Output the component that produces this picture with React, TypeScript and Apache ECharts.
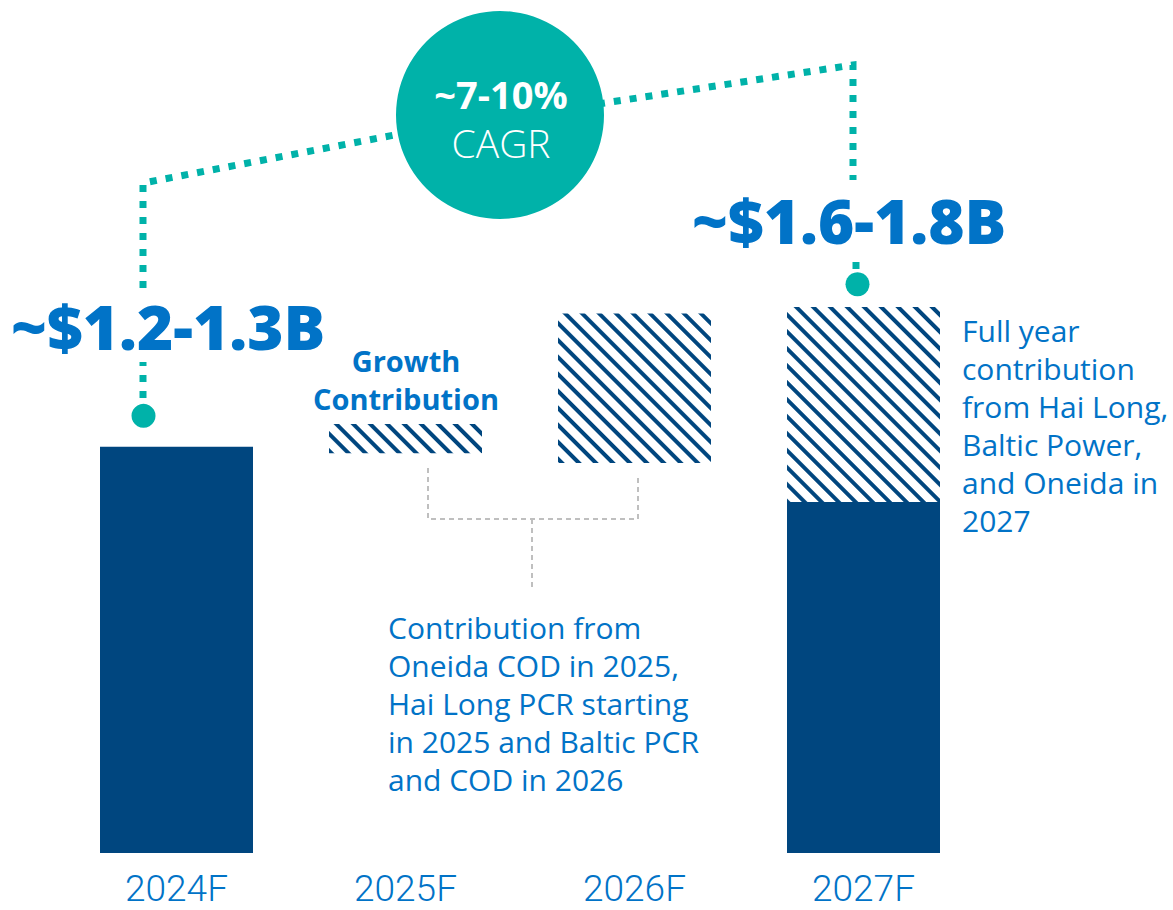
import React, { useEffect, useRef } from "react";
import * as echarts from "echarts";

const categories = ["2024F", "2025F", "2026F", "2027F"];
const baseValues = [1.25, 0, 0, 1.08];
const offsetValues = [0, 1.23, 1.2, 0];
const growthValues = [0, 0.09, 0.46, 0.6];
const markerPoints: [number, number, number][] = [
  [0, 1.345, -33],
  [3, 1.75, -6],
];
const leftLabel = "~$1.2-1.3B";
const rightLabel = "~$1.6-1.8B";
const cagrTop = "~7-10%";
const cagrBottom = "CAGR";
const growthTitle = ["Growth", "Contribution"];
const noteMiddle = [
  "Contribution from",
  "Oneida COD in 2025,",
  "Hai Long PCR starting",
  "in 2025 and Baltic PCR",
  "and COD in 2026",
];
const noteRight = [
  "Full year",
  "contribution",
  "from Hai Long,",
  "Baltic Power,",
  "and Oneida in",
  "2027",
];

const NAVY = "#00467F";
const BLUE = "#0173C7";
const TEAL = "#00B2A9";
const FONT = "'Open Sans', 'Noto Sans', sans-serif";

export default function App() {
  const ref = useRef<HTMLDivElement>(null);
  useEffect(() => {
    document.body.style.margin = "0";
    const chart = echarts.init(ref.current!, undefined, { renderer: "svg" });
    const dotted = { stroke: TEAL, lineWidth: 7, lineDash: [7, 9], fill: null };
    const dashedGray = { stroke: "#BFBFBF", lineWidth: 2, lineDash: [5, 4], fill: null };
    const graphic: any[] = [
      { type: "polyline", shape: { points: [[143, 398], [143, 362]] }, style: dotted },
      { type: "polyline", shape: { points: [[143, 288], [143, 183], [400, 134]] }, style: dotted },
      { type: "polyline", shape: { points: [[598, 104], [853, 65], [853, 180]] }, style: dotted },
      { type: "polyline", shape: { points: [[856, 262], [856, 272]] }, style: dotted },
      { type: "circle", shape: { cx: 500, cy: 115, r: 104 }, style: { fill: TEAL } },
      {
        type: "text",
        x: 501,
        y: 94,
        style: { text: cagrTop, fill: "#fff", font: `700 38px ${FONT}`, align: "center", verticalAlign: "middle" },
      },
      {
        type: "text",
        x: 501,
        y: 142,
        style: { text: cagrBottom, fill: "#fff", font: `300 39px ${FONT}`, align: "center", verticalAlign: "middle" },
      },
      {
        type: "text",
        x: 168,
        y: 326,
        style: { text: leftLabel, fill: BLUE, font: `800 62px ${FONT}`, align: "center", verticalAlign: "middle" },
      },
      {
        type: "text",
        x: 849,
        y: 220,
        style: { text: rightLabel, fill: BLUE, font: `800 62px ${FONT}`, align: "center", verticalAlign: "middle" },
      },
      {
        type: "text",
        x: 406,
        y: 379,
        style: {
          text: growthTitle.join("\n"),
          fill: BLUE,
          font: `700 29px ${FONT}`,
          lineHeight: 38,
          align: "center",
          verticalAlign: "middle",
        },
      },
      { type: "polyline", shape: { points: [[428, 468], [428, 519], [638, 519], [638, 478]] }, style: dashedGray },
      { type: "polyline", shape: { points: [[532, 519], [532, 587]] }, style: dashedGray },
      {
        type: "text",
        x: 388,
        y: 703,
        style: {
          text: noteMiddle.join("\n"),
          fill: BLUE,
          font: `400 30px ${FONT}`,
          lineHeight: 38,
          align: "left",
          verticalAlign: "middle",
        },
      },
      {
        type: "text",
        x: 962,
        y: 425,
        style: {
          text: noteRight.join("\n"),
          fill: BLUE,
          font: `400 30px ${FONT}`,
          lineHeight: 38,
          align: "left",
          verticalAlign: "middle",
        },
      },
    ];

    chart.setOption({
      animation: false,
      backgroundColor: "#ffffff",
      grid: { left: 62, right: 195, top: 8, bottom: 57 },
      xAxis: {
        type: "category",
        data: categories,
        axisLine: { show: false },
        axisTick: { show: false },
        axisLabel: {
          color: BLUE,
          fontSize: 37,
          lineHeight: 37,
          fontFamily: "Roboto, sans-serif",
          fontWeight: 300,
          margin: 17,
        },
      },
      yAxis: { type: "value", min: 0, max: 2.6, show: false, splitLine: { show: false } },
      series: [
        {
          name: "base",
          type: "bar",
          stack: "total",
          barWidth: 153,
          itemStyle: { color: NAVY },
          data: baseValues,
        },
        {
          name: "offset",
          type: "bar",
          stack: "total",
          barWidth: 153,
          itemStyle: { color: "rgba(0,0,0,0)" },
          data: offsetValues,
        },
        {
          name: "growth",
          type: "bar",
          stack: "total",
          barWidth: 153,
          itemStyle: {
            color: "#ffffff",
            decal: {
              symbol: "rect",
              color: NAVY,
              dashArrayX: [1, 0],
              dashArrayY: [3.3, 7.3],
              rotation: Math.PI / 4,
            },
          },
          data: growthValues,
        },
        {
          name: "marker",
          type: "scatter",
          symbol: "circle",
          symbolSize: 24,
          itemStyle: { color: TEAL, opacity: 1 },
          data: markerPoints.map(([x, y, off]) => ({ value: [x, y], symbolOffset: [off, 0] })),
          z: 5,
        },
      ],
      graphic,
    });
    return () => chart.dispose();
  }, []);
  return <div ref={ref} style={{ width: 1173, height: 910 }} />;
}
